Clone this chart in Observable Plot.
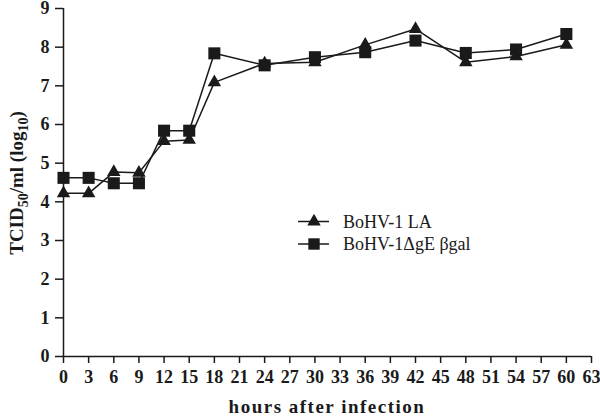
<!DOCTYPE html>
<html><head><meta charset="utf-8">
<script src="https://cdn.jsdelivr.net/npm/d3@7"></script>
<script src="https://cdn.jsdelivr.net/npm/@observablehq/plot@0.6"></script>
<style>body{margin:0;background:#fff}</style>
</head><body><div id="chart"></div>
<script>
const hours = [0, 3, 6, 9, 12, 15, 18, 24, 30, 36, 42, 48, 54, 60];
const laValues = [4.22, 4.22, 4.77, 4.75, 5.57, 5.60, 7.09, 7.58, 7.61, 8.06, 8.47, 7.61, 7.76, 8.06];
const geValues = [4.62, 4.62, 4.48, 4.48, 5.84, 5.84, 7.84, 7.53, 7.74, 7.87, 8.17, 7.85, 7.94, 8.34];
const seriesNames = ["BoHV-1 LA", "BoHV-1\u0394gE \u03b2gal"];
const xTicks = d3.range(0, 64, 3);
const yTicks = [0,1,2,3,4,5,6,7,8,9];

const la = hours.map((h,i)=>({h, v: laValues[i]}));
const ge = hours.map((h,i)=>({h, v: geValues[i]}));

const ink = "#1a1a1a";
const serif = "'Liberation Serif', 'Times New Roman', serif";
const plot = Plot.plot({
  width: 600, height: 417,
  marginLeft: 63, marginRight: 9, marginTop: 8, marginBottom: 61,
  style: {fontFamily: serif, fontSize: "18px", fontWeight: "bold", color: ink, background: "#fff", overflow: "visible"},
  x: {domain: [0, 63], ticks: xTicks, label: null},
  y: {domain: [0, 9], ticks: yTicks, label: null},
  marks: [
    Plot.axisX({ticks: xTicks, tickSize: 7, tickPadding: 7, stroke: ink, strokeWidth: 1.5, fontWeight: "bold", fontSize: 18}),
    Plot.axisY({ticks: yTicks, tickSize: 8, tickPadding: 6, stroke: ink, strokeWidth: 1.5, fontWeight: "bold", fontSize: 18}),
    Plot.ruleX([0], {stroke: ink, strokeWidth: 1.5}),
    Plot.ruleY([0], {stroke: ink, strokeWidth: 1.5}),
    Plot.line(la, {x: "h", y: "v", stroke: ink, strokeWidth: 1.5}),
    Plot.line(ge, {x: "h", y: "v", stroke: ink, strokeWidth: 1.5}),
    Plot.dot(la, {x: "h", y: "v", symbol: "triangle", r: 5, fill: ink, stroke: "none"}),
    Plot.dot(ge, {x: "h", y: "v", symbol: "square", r: 6.8, fill: ink, stroke: "none"})
  ]
});
document.getElementById("chart").appendChild(plot);

const svg = d3.select(plot);
// y-axis label with subscripts
const yl = svg.append("text")
  .attr("transform", "translate(23,183) rotate(-90)")
  .attr("text-anchor", "middle")
  .attr("font-family", serif)
  .attr("font-size", 19).attr("font-weight", "bold").attr("fill", ink);
yl.append("tspan").text("TCID");
yl.append("tspan").attr("dy", 5).attr("font-size", 14).text("50");
yl.append("tspan").attr("dy", -5).text("/ml (log");
yl.append("tspan").attr("dy", 5).attr("font-size", 14).text("10");
yl.append("tspan").attr("dy", -5).text(")");
// x-axis label
svg.append("text")
  .attr("x", 327).attr("y", 413)
  .attr("text-anchor", "middle")
  .attr("font-family", serif)
  .attr("font-size", 19).attr("font-weight", "bold").attr("letter-spacing", 1.5).attr("fill", ink)
  .text("hours after infection");
// legend
const sym = [d3.symbolTriangle, d3.symbolSquare];
const sz = [Math.PI*25, 130];
seriesNames.forEach((name, i) => {
  const y = 221.5 + i*22.5;
  const g = svg.append("g");
  g.append("line").attr("x1", 298).attr("x2", 329).attr("y1", y).attr("y2", y).attr("stroke", ink).attr("stroke-width", 1.5);
  g.append("path").attr("d", d3.symbol(sym[i], sz[i])()).attr("transform", `translate(314,${y})`).attr("fill", ink);
  g.append("text").attr("x", 343).attr("y", y + 6)
    .attr("text-anchor", "start")
    .attr("font-family", serif).attr("font-weight", "normal")
    .attr("font-size", 18).attr("fill", ink).text(name);
});
</script></body></html>
